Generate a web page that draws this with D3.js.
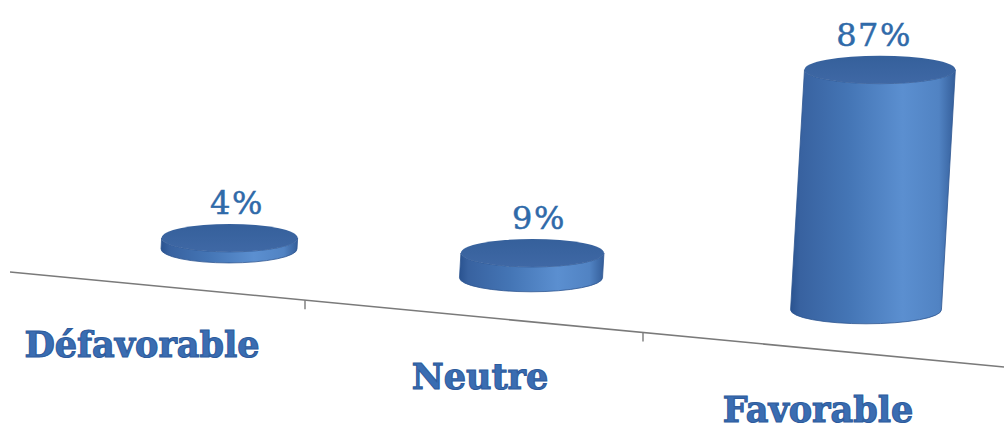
<!DOCTYPE html>
<html>
<head>
<meta charset="utf-8">
<script src="https://cdn.jsdelivr.net/npm/d3@7"></script>
<style>
  html, body { margin: 0; padding: 0; background: #ffffff; }
  svg { display: block; }
</style>
</head>
<body>
<svg id="chart" width="1004" height="426"></svg>
<script>
// ---- data ----
const categories = ["Défavorable", "Neutre", "Favorable"];
const values = [4, 9, 87];
const valueLabels = ["4%", "9%", "87%"];

// ---- layout ----
const W = 1004, H = 426;
const svg = d3.select("#chart");

// front axis (slanted, perspective floor edge)
const axisX = d3.scaleBand().domain(categories).range([-33, 981]);
const axisSkew = d3.scaleLinear().domain([10, 1004]).range([272, 367]);

// depth position of bars: perspective projection of the category index
const idx = d3.scaleLinear().domain([0, categories.length - 1]).range([0, 2]);
const P = { a: 275.85, b: 229, c: -0.04925 };
const projX = u => (P.a * u + P.b) / (P.c * u + 1);
const depthK = u => 1 / (P.c * u + 1);

const hScale = d3.scaleLinear().domain([0, 100]).range([0, 276]);
const baseRx = 68, ry = 14, lean = 0.058, floorGap = 44;

// gradients
const defs = svg.append("defs");
const g = defs.append("linearGradient").attr("id", "side")
  .attr("x1", "0%").attr("x2", "100%").attr("y1", "0%").attr("y2", "0%");
[[0, "#2a5390"], [0.06, "#3862a0"], [0.35, "#4475b5"], [0.68, "#5b8fd0"], [0.9, "#5183c3"], [1, "#345e9a"]]
  .forEach(([o, c]) => g.append("stop").attr("offset", o).attr("stop-color", c));
const gt = defs.append("linearGradient").attr("id", "top")
  .attr("x1", "0%").attr("x2", "0%").attr("y1", "0%").attr("y2", "100%");
[[0, "#35609b"], [1, "#3f68a5"]]
  .forEach(([o, c]) => gt.append("stop").attr("offset", o).attr("stop-color", c));

// axis line
svg.append("line")
  .attr("x1", 10).attr("y1", axisSkew(10))
  .attr("x2", 1004).attr("y2", axisSkew(1004))
  .attr("stroke", "#7a7a7a").attr("stroke-width", 1.6);

// inner ticks at band boundaries
const bounds = categories.slice(1).map(c => axisX(c));
svg.selectAll("line.tick").data(bounds).enter().append("line")
  .attr("class", "tick")
  .attr("x1", d => d).attr("x2", d => d)
  .attr("y1", d => axisSkew(d)).attr("y2", d => axisSkew(d) + 9)
  .attr("stroke", "#7a7a7a").attr("stroke-width", 1.4);

// bars (cylinders)
const bars = categories.map((c, i) => {
  const u = idx(i);
  const cxB = projX(u);
  const rx = baseRx * depthK(u);
  const yB = axisSkew(cxB) - floorGap;
  const h = hScale(values[i]);
  const yT = yB - h;
  const cxT = cxB + h * lean;
  return { c, i, cxB, cxT, rx, yB, yT };
});

const gBars = svg.selectAll("g.bar").data(bars).enter().append("g").attr("class", "bar");
gBars.append("path")
  .attr("d", d => `M${d.cxT - d.rx},${d.yT} L${d.cxB - d.rx},${d.yB} ` +
    `A${d.rx},${ry} 0 0 0 ${d.cxB + d.rx},${d.yB} L${d.cxT + d.rx},${d.yT} ` +
    `A${d.rx},${ry} 0 0 1 ${d.cxT - d.rx},${d.yT} Z`)
  .attr("fill", "url(#side)")
  .attr("stroke", "#2d5690").attr("stroke-width", 0.8);
gBars.append("ellipse")
  .attr("cx", d => d.cxT).attr("cy", d => d.yT)
  .attr("rx", d => d.rx).attr("ry", ry)
  .attr("fill", "url(#top)");

// value labels
svg.selectAll("text.val").data(bars).enter().append("text")
  .attr("class", "val")
  .attr("x", d => d.cxB + 8)
  .attr("y", d => d.yT - 24)
  .attr("text-anchor", "middle")
  .attr("font-family", "'DejaVu Serif', serif")
  .attr("font-size", 32)
  .attr("letter-spacing", 1.5)
  .attr("fill", "#2f6aa9")
  .attr("stroke", "#2f6aa9").attr("stroke-width", 0.5)
  .text(d => valueLabels[d.i]);

// category labels
svg.selectAll("text.cat").data(categories).enter().append("text")
  .attr("class", "cat")
  .attr("x", d => axisX(d) + axisX.bandwidth() / 2 + 6)
  .attr("y", d => axisSkew(axisX(d) + axisX.bandwidth() / 2) + 73)
  .attr("text-anchor", "middle")
  .attr("font-family", "'DejaVu Serif', serif")
  .attr("font-weight", "bold")
  .attr("font-size", 35)
  .attr("fill", "#3a6db2")
  .attr("stroke", "#2d5b9c").attr("stroke-width", 1.1)
  .text(d => d);
</script>
</body>
</html>
